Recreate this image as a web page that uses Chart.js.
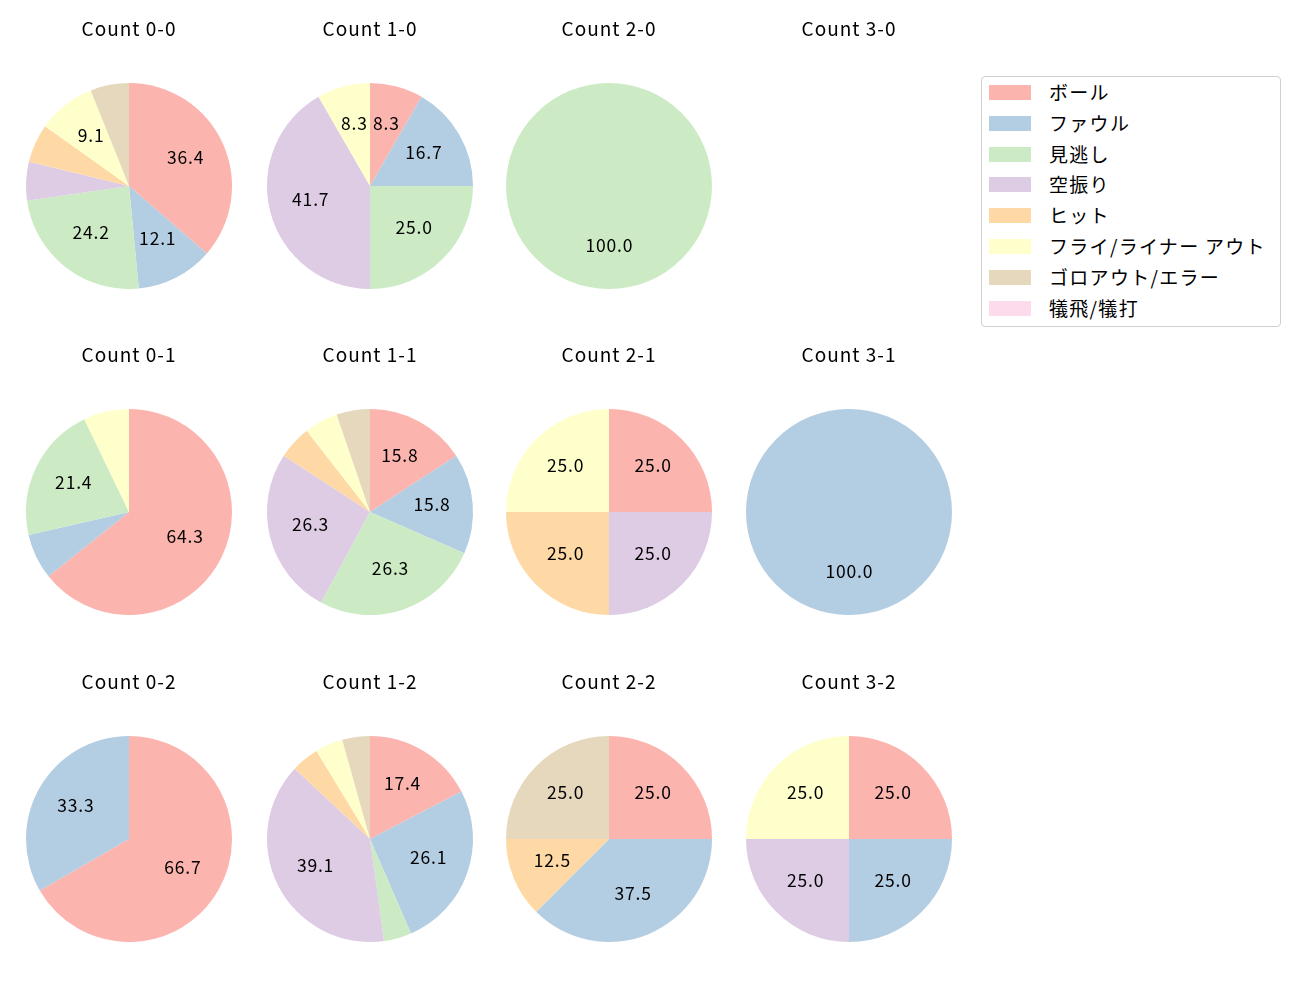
<!DOCTYPE html>
<html><head><meta charset="utf-8">
<script src="https://cdn.jsdelivr.net/npm/chart.js@4"></script>
<style>
body{margin:0;background:#fff;font-family:"Noto Sans CJK JP",sans-serif;}
#wrap{position:relative;width:1300px;height:1000px;}
.cell{position:absolute;}
#legend{position:absolute;left:981px;top:76px;width:300px;height:251px;border:1px solid #d0d0d0;border-radius:4px;box-sizing:border-box;}
.li{position:absolute;left:7px;height:16px;font-size:19px;color:#000;}
.sw{position:absolute;left:0;top:0;width:42px;height:15px;}
.lt{position:absolute;left:60px;top:-13px;white-space:nowrap;line-height:40px;letter-spacing:1.3px;}
</style></head><body><div id="wrap"><div id="legend"></div></div>
<script>
const categories = ["ボール","ファウル","見逃し","空振り","ヒット","フライ/ライナー アウト","ゴロアウト/エラー","犠飛/犠打"];
const colors = ["#fbb4ae","#b3cde3","#ccebc5","#decbe4","#fed9a6","#ffffcc","#e5d8bd","#fddaec"];
const titles = ["Count 0-0","Count 1-0","Count 2-0","Count 3-0","Count 0-1","Count 1-1","Count 2-1","Count 3-1","Count 0-2","Count 1-2","Count 2-2","Count 3-2"];
// counts per category (order as categories)
const count00 = [12,4,8,2,2,3,2,0];
const count10 = [1,2,3,5,0,1,0,0];
const count20 = [0,0,1,0,0,0,0,0];
const count30 = [0,0,0,0,0,0,0,0];
const count01 = [9,1,3,0,0,1,0,0];
const count11 = [3,3,5,5,1,1,1,0];
const count21 = [1,0,0,1,1,1,0,0];
const count31 = [0,1,0,0,0,0,0,0];
const count02 = [2,1,0,0,0,0,0,0];
const count12 = [4,6,1,9,1,1,1,0];
const count22 = [2,3,0,0,1,0,2,0];
const count32 = [1,1,0,1,0,1,0,0];
const allData = [count00,count10,count20,count30,count01,count11,count21,count31,count02,count12,count22,count32];

const colX = [129,370,609,849];
const rowY = [186,512,839];
const R = 103;

const spacing = {
  id:'spacing',
  beforeDraw(chart){ chart.ctx.letterSpacing = '1px'; }
};

const pctLabels = {
  id:'pctLabels',
  afterDatasetsDraw(chart){
    const ctx = chart.ctx;
    const meta = chart.getDatasetMeta(0);
    const data = chart.data.datasets[0].data;
    const total = data.reduce((a,b)=>a+b,0);
    if(!total) return;
    ctx.save();
    ctx.letterSpacing = '0.8px';
    ctx.font = '17.5px "Noto Sans CJK JP"';
    ctx.fillStyle = '#000';
    ctx.textAlign='center'; ctx.textBaseline='middle';
    meta.data.forEach((arc,i)=>{
      const p = data[i]/total*100;
      if(p < 8) return;
      const mid = (arc.startAngle+arc.endAngle)/2;
      const r = arc.outerRadius*0.6;
      ctx.fillText(p.toFixed(1), arc.x + Math.cos(mid)*r + 0.4, arc.y + Math.sin(mid)*r - 2.5);
    });
    ctx.restore();
  }
};

const wrap = document.getElementById('wrap');
allData.forEach((d,k)=>{
  const c = k%4, r = Math.floor(k/4);
  const W = 240, H = 280;
  const div = document.createElement('div');
  div.className='cell';
  div.style.left = (colX[c]-W/2)+'px';
  div.style.top = (rowY[r]-R-74)+'px';
  div.style.width=W+'px'; div.style.height=H+'px';
  const cv = document.createElement('canvas');
  div.appendChild(cv); wrap.appendChild(div);
  new Chart(cv,{
    type:'pie',
    data:{labels:categories,datasets:[{data:d,backgroundColor:colors,borderWidth:0}]},
    options:{
      responsive:true,maintainAspectRatio:false,animation:false,
      layout:{padding:{left:17,right:17,top:0,bottom:0}},
      plugins:{
        legend:{display:false},tooltip:{enabled:false},
        title:{display:true,text:titles[k],color:'#000',font:{family:'"Noto Sans CJK JP"',size:19,weight:'normal',lineHeight:1.2},padding:{top:8,bottom:43.2}}
      }
    },
    plugins:[spacing,pctLabels]
  });
});

const lg = document.getElementById('legend');
categories.forEach((name,i)=>{
  const it = document.createElement('div');
  it.className='li';
  it.style.top = (8+i*30.8)+'px';
  it.innerHTML = '<div class="sw" style="background:'+colors[i]+'"></div><div class="lt"></div>';
  it.querySelector('.lt').textContent = name;
  lg.appendChild(it);
});
</script></body></html>
